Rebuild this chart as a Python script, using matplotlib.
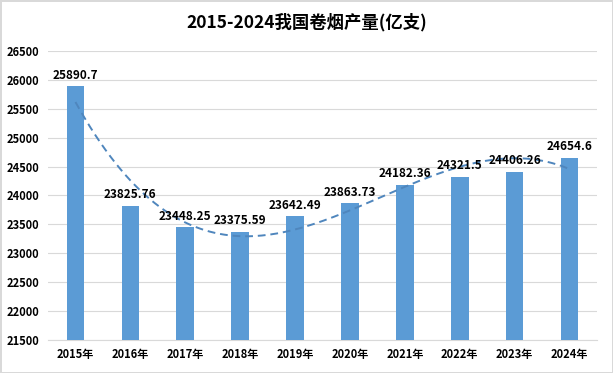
import numpy as np
from matplotlib import pyplot as plt

plt.rcParams['font.family'] = ['Noto Sans CJK SC', 'DejaVu Sans']

years = ['2015年', '2016年', '2017年', '2018年', '2019年',
	'2020年', '2021年', '2022年', '2023年', '2024年']
output = [25890.7, 23825.76, 23448.25, 23375.59, 23642.49,
	23863.73, 24182.36, 24321.5, 24406.26, 24654.6]
labels = ['25890.7', '23825.76', '23448.25', '23375.59', '23642.49',
	'23863.73', '24182.36', '24321.5', '24406.26', '24654.6']

fig = plt.figure(figsize=(6.13, 3.73), dpi=100)
fig.patch.set_edgecolor('#d9d9d9')
fig.patch.set_linewidth(2)
ax = fig.add_axes([48 / 613, 1 - 340 / 373, 549 / 613, 289 / 373])

x = np.arange(len(years))
ax.bar(x, output, width=0.32, color='#5b9bd5', zorder=3)

# polynomial trendline (order 3), like the excel one
coef = np.polyfit(x, output, 3)
xs = np.linspace(0, len(years) - 1, 200)
ax.plot(xs, np.polyval(coef, xs), '--', color='#4f86bd', lw=1.4, zorder=4, dashes=(4, 2.5))

for xi, v, lab in zip(x, output, labels):
	ax.text(xi, v + 80, lab, ha='center', va='bottom', fontsize=8.5, fontweight='bold', zorder=5)

ax.set_xlim(-0.5, len(years) - 0.5)
ax.set_ylim(21500, 26500)
ax.set_yticks(np.arange(21500, 26501, 500))
ax.set_xticks(x)
ax.set_xticklabels(years)
ax.grid(axis='y', color='#d9d9d9', lw=0.8, zorder=0)
for s in ['top', 'right', 'left']:
	ax.spines[s].set_visible(False)
ax.spines['bottom'].set_color('#d9d9d9')
ax.tick_params(length=0, labelsize=8, pad=6)
for t in ax.get_xticklabels() + ax.get_yticklabels():
	t.set_fontweight('bold')

fig.text(0.5, 1 - 22 / 373, '2015-2024我国卷烟产量(亿支)', ha='center', va='center',
	fontsize=12.5, fontweight='bold')

fig.savefig('out.png', dpi=100, edgecolor=fig.get_edgecolor())
